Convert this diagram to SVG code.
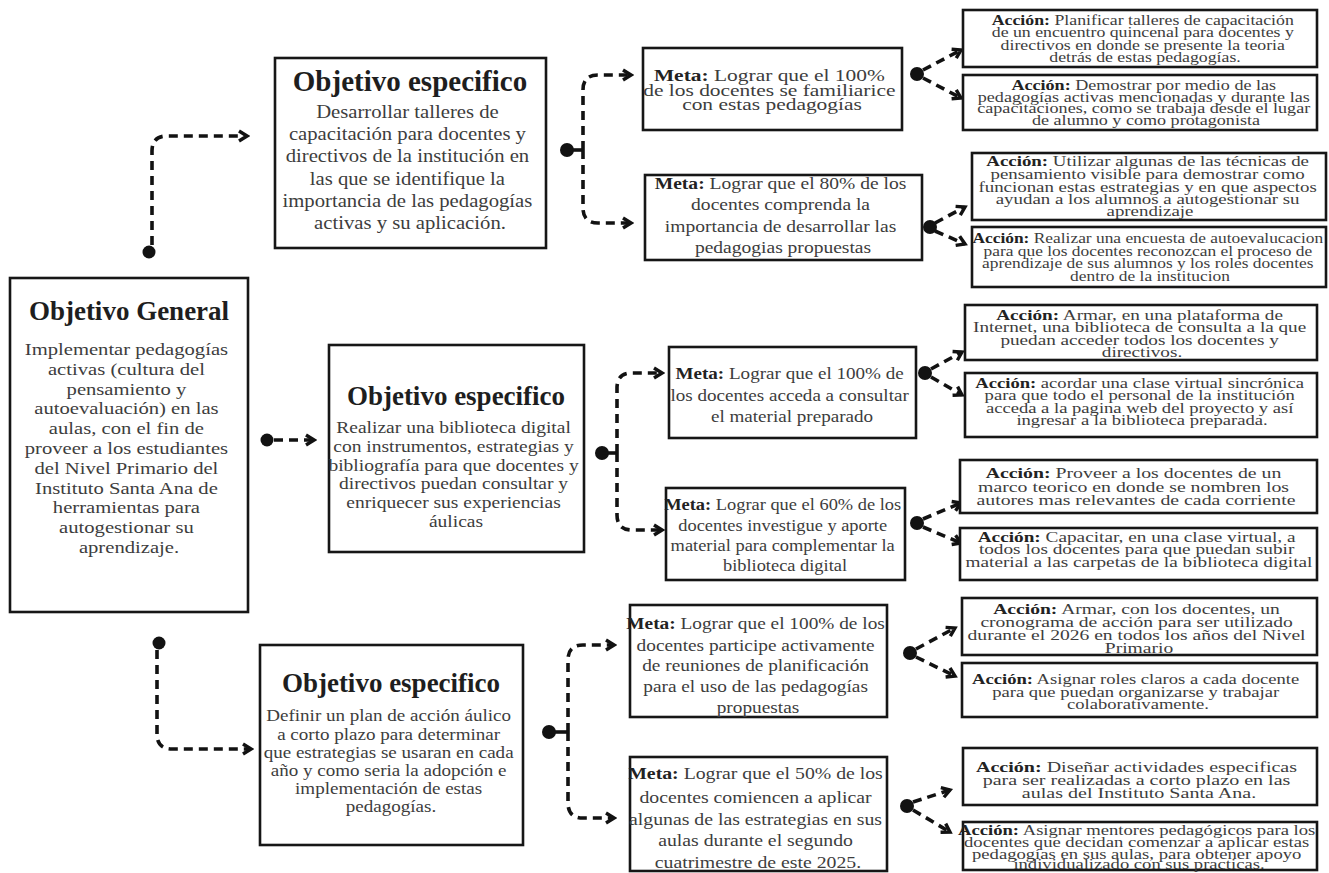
<svg xmlns="http://www.w3.org/2000/svg" width="1329" height="873" viewBox="0 0 1329 873">
<style>
.box{fill:#fff;stroke:#161616;stroke-width:2.6}
.t{font-family:"Liberation Serif","Times New Roman",serif;fill:#3d3d3d;text-anchor:middle}
.ti{font-family:"Liberation Serif","Times New Roman",serif;font-weight:bold;fill:#1e1e1e;text-anchor:middle}
.b{font-weight:bold;fill:#222}
.dash{fill:none;stroke:#121212;stroke-width:3.6;stroke-dasharray:9 6;marker-end:url(#ah)}
.stub{fill:none;stroke:#121212;stroke-width:3.6}
.dot{fill:#121212}
</style>
<defs>
<marker id="ah" viewBox="0 0 14 14" refX="11" refY="7" markerWidth="14" markerHeight="14" markerUnits="userSpaceOnUse" orient="auto">
<path d="M3,2 L11,7 L3,12" fill="none" stroke="#121212" stroke-width="3.4"/>
</marker>
</defs>
<rect width="1329" height="873" fill="#fff"/>

<g id="connectors">
<circle class="dot" cx="149" cy="252" r="6.5"/>
<path class="dash" d="M152,245 V151 Q152,136 167,136 H247"/>
<circle class="dot" cx="267" cy="440" r="6.5"/>
<path class="dash" d="M274,440 H314"/>
<circle class="dot" cx="159" cy="643" r="6.5"/>
<path class="dash" d="M157,650 V734 Q157,749 172,749 H251"/>

<circle class="dot" cx="567" cy="150" r="7"/>
<path class="stub" d="M567,150 H584"/>
<path class="dash" d="M583,150 V90 Q583,75 598,75 H631"/>
<path class="dash" d="M583,150 V208 Q583,223 598,223 H631"/>

<circle class="dot" cx="602" cy="453" r="7"/>
<path class="stub" d="M602,453 H618"/>
<path class="dash" d="M617,453 V388 Q617,373 632,373 H662"/>
<path class="dash" d="M617,453 V515 Q617,530 632,530 H662"/>

<circle class="dot" cx="549" cy="732" r="7"/>
<path class="stub" d="M549,732 H569"/>
<path class="dash" d="M568,732 V660 Q568,645 583,645 H614"/>
<path class="dash" d="M568,732 V803 Q568,818 583,818 H614"/>

<circle class="dot" cx="917" cy="74" r="7"/>
<path class="dash" d="M923,70 L961,50"/>
<path class="dash" d="M923,78 L961,98"/>
<circle class="dot" cx="930" cy="227" r="7"/>
<path class="dash" d="M935,223 L965,207"/>
<path class="dash" d="M935,231 L965,244"/>
<circle class="dot" cx="925" cy="373" r="7"/>
<path class="dash" d="M931,369 L962,352"/>
<path class="dash" d="M931,377 L962,395"/>
<circle class="dot" cx="917" cy="523" r="7"/>
<path class="dash" d="M923,519 L961,503"/>
<path class="dash" d="M923,527 L961,543"/>
<circle class="dot" cx="910" cy="653" r="7"/>
<path class="dash" d="M916,649 L955,628"/>
<path class="dash" d="M916,657 L955,676"/>
<circle class="dot" cx="907" cy="806" r="7"/>
<path class="dash" d="M913,802 L950,790"/>
<path class="dash" d="M913,810 L950,832"/>
</g>

<g id="objetivo-general">
<rect class="box" x="10" y="278" width="238" height="334"/>
<text class="ti" x="129" y="320" font-size="27">Objetivo General</text>
<text class="t" font-size="17.2" transform="matrix(1.2 0 0 1 129 0)">
<tspan x="0" y="355">Implementar pedagogías</tspan>
<tspan x="0" y="374.8">activas (cultura del</tspan>
<tspan x="0" y="394.6">pensamiento y</tspan>
<tspan x="0" y="414.4">autoevaluación) en las</tspan>
<tspan x="0" y="434.2">aulas, con el fin de</tspan>
<tspan x="0" y="454">proveer a los estudiantes</tspan>
<tspan x="0" y="473.8">del Nivel Primario del</tspan>
<tspan x="0" y="493.6">Instituto Santa Ana de</tspan>
<tspan x="0" y="513.4">herramientas para</tspan>
<tspan x="0" y="533.2">autogestionar su</tspan>
<tspan x="0" y="553">aprendizaje.</tspan>
</text>
</g>

<g id="objetivo-especifico-1">
<rect class="box" x="275" y="58" width="271" height="190"/>
<text class="ti" x="410" y="91" font-size="29">Objetivo especifico</text>
<text class="t" font-size="18" transform="matrix(1.15 0 0 1 410 0)">
<tspan x="0" y="118">Desarrollar talleres de</tspan>
<tspan x="0" y="140.2">capacitación para docentes y</tspan>
<tspan x="0" y="162.4">directivos de la institución en</tspan>
<tspan x="0" y="184.6">las que se identifique la</tspan>
<tspan x="0" y="206.8">importancia de las pedagogías</tspan>
<tspan x="0" y="229">activas y su aplicación.</tspan>
</text>
</g>

<g id="meta-1a">
<rect class="box" x="643" y="48" width="259" height="82"/>
<text class="t" font-size="16" transform="matrix(1.34 0 0 1 772 0)">
<tspan x="0" y="81.5"><tspan class="b">Meta:</tspan> Lograr que el 100%</tspan>
<tspan x="0" y="96">de los docentes se familiarice</tspan>
<tspan x="0" y="110.5">con estas pedagogías</tspan>
</text>
</g>

<g id="meta-1b">
<rect class="box" x="645" y="175" width="277" height="85"/>
<text class="t" font-size="17" transform="matrix(1.15 0 0 1 783 0)">
<tspan x="0" y="189"><tspan class="b">Meta:</tspan> Lograr que el 80% de los</tspan>
<tspan x="0" y="210">docentes comprenda la</tspan>
<tspan x="0" y="232">importancia de desarrollar las</tspan>
<tspan x="0" y="253">pedagogias propuestas</tspan>
</text>
</g>

<g id="accion-1">
<rect class="box" x="963" y="10" width="354" height="57"/>
<text class="t" font-size="14" transform="matrix(1.27 0 0 1 1145 0)">
<tspan x="0" y="25"><tspan class="b">Acción:</tspan> Planificar talleres de capacitación</tspan>
<tspan x="0" y="37.5">de un encuentro quincenal para docentes y</tspan>
<tspan x="0" y="50">directivos en donde se presente la teoria</tspan>
<tspan x="0" y="62">detrás de estas pedagogías.</tspan>
</text>
</g>

<g id="accion-2">
<rect class="box" x="963" y="75" width="354" height="55"/>
<text class="t" font-size="13.6" transform="matrix(1.33 0 0 1 1146 0)">
<tspan x="0" y="90"><tspan class="b">Acción:</tspan> Demostrar por medio de las</tspan>
<tspan x="0" y="102">pedagogías activas mencionadas y durante las</tspan>
<tspan x="0" y="113.5">capacitaciones, como se trabaja desde el lugar</tspan>
<tspan x="0" y="125">de alumno y como protagonista</tspan>
</text>
</g>

<g id="accion-3">
<rect class="box" x="972" y="153" width="354" height="67"/>
<text class="t" font-size="14.2" transform="matrix(1.33 0 0 1 1150 0)">
<tspan x="0" y="166"><tspan class="b">Acción:</tspan> Utilizar algunas de las técnicas de</tspan>
<tspan x="0" y="179">pensamiento visible para demostrar como</tspan>
<tspan x="0" y="192">funcionan estas estrategias y en que aspectos</tspan>
<tspan x="0" y="204.5">ayudan a los alumnos a autogestionar su</tspan>
<tspan x="0" y="216.5">aprendizaje</tspan>
</text>
</g>

<g id="accion-4">
<rect class="box" x="972" y="227" width="354" height="60"/>
<text class="t" font-size="13.8" transform="matrix(1.26 0 0 1 1150 0)">
<tspan x="0" y="243"><tspan class="b">Acción:</tspan> Realizar una encuesta de autoevalucacion</tspan>
<tspan x="0" y="256">para que los docentes reconozcan el proceso de</tspan>
<tspan x="0" y="268.5">aprendizaje de sus alumnos y los roles docentes</tspan>
<tspan x="0" y="281">dentro de la institucion</tspan>
</text>
</g>

<g id="objetivo-especifico-2">
<rect class="box" x="329" y="345" width="255" height="207"/>
<text class="ti" x="456" y="405" font-size="27">Objetivo especifico</text>
<text class="t" font-size="16.4" transform="matrix(1.19 0 0 1 456 0)">
<tspan x="0" y="433">Realizar una biblioteca digital</tspan>
<tspan x="0" y="452">con instrumentos, estrategias y</tspan>
<tspan x="0" y="471">bibliografía para que docentes y</tspan>
<tspan x="0" y="489.5">directivos puedan consultar y</tspan>
<tspan x="0" y="508.5">enriquecer sus experiencias</tspan>
<tspan x="0" y="527">áulicas</tspan>
</text>
</g>

<g id="meta-2a">
<rect class="box" x="669" y="347" width="247" height="91"/>
<text class="t" font-size="16.6" transform="matrix(1.15 0 0 1 792 0)">
<tspan x="0" y="379"><tspan class="b">Meta:</tspan> Lograr que el 100% de</tspan>
<tspan x="0" y="401">los docentes acceda a consultar</tspan>
<tspan x="0" y="422">el material preparado</tspan>
</text>
</g>

<g id="meta-2b">
<rect class="box" x="666" y="488" width="239" height="92"/>
<text class="t" font-size="16" transform="matrix(1.15 0 0 1 785 0)">
<tspan x="0" y="510"><tspan class="b">Meta:</tspan> Lograr que el 60% de los</tspan>
<tspan x="0" y="531">docentes investigue y aporte</tspan>
<tspan x="0" y="551">material para complementar la</tspan>
<tspan x="0" y="571">biblioteca digital</tspan>
</text>
</g>

<g id="accion-5">
<rect class="box" x="965" y="305" width="352" height="55"/>
<text class="t" font-size="14" transform="matrix(1.37 0 0 1 1142 0)">
<tspan x="0" y="320"><tspan class="b">Acción:</tspan> Armar, en una plataforma de</tspan>
<tspan x="0" y="332.5">Internet, una biblioteca de consulta a la que</tspan>
<tspan x="0" y="345">puedan acceder todos los docentes y</tspan>
<tspan x="0" y="357">directivos.</tspan>
</text>
</g>

<g id="accion-6">
<rect class="box" x="965" y="373" width="352" height="64"/>
<text class="t" font-size="14.2" transform="matrix(1.31 0 0 1 1142 0)">
<tspan x="0" y="388"><tspan class="b">Acción:</tspan> acordar una clase virtual sincrónica</tspan>
<tspan x="0" y="400.5">para que todo el personal de la institución</tspan>
<tspan x="0" y="413">acceda a la pagina web del proyecto y así</tspan>
<tspan x="0" y="425.5">ingresar a la biblioteca preparada.</tspan>
</text>
</g>

<g id="accion-7">
<rect class="box" x="960" y="460" width="357" height="53"/>
<text class="t" font-size="15" transform="matrix(1.32 0 0 1 1136 0)">
<tspan x="0" y="478"><tspan class="b">Acción:</tspan> Proveer a los docentes de un</tspan>
<tspan x="0" y="492">marco teorico en donde se nombren los</tspan>
<tspan x="0" y="505.5">autores mas relevantes de cada corriente</tspan>
</text>
</g>

<g id="accion-8">
<rect class="box" x="960" y="528" width="357" height="52"/>
<text class="t" font-size="14.6" transform="matrix(1.32 0 0 1 1139 0)">
<tspan x="0" y="542"><tspan class="b">Acción:</tspan> Capacitar, en una clase virtual, a</tspan>
<tspan x="0" y="554.5">todos los docentes para que puedan subir</tspan>
<tspan x="0" y="567">material a las carpetas de la biblioteca digital</tspan>
</text>
</g>

<g id="objetivo-especifico-3">
<rect class="box" x="260" y="645" width="263" height="200"/>
<text class="ti" x="391" y="692" font-size="27">Objetivo especifico</text>
<text class="t" font-size="16" transform="matrix(1.19 0 0 1 391 0)">
<tspan x="0" y="721">Definir un plan de acción áulico</tspan>
<tspan x="0" y="740">a corto plazo para determinar</tspan>
<tspan x="0" y="758">que estrategias se usaran en cada</tspan>
<tspan x="0" y="776">año y como seria la adopción e</tspan>
<tspan x="0" y="794">implementación de estas</tspan>
<tspan x="0" y="812">pedagogías.</tspan>
</text>
</g>

<g id="meta-3a">
<rect class="box" x="630" y="605" width="257" height="112"/>
<text class="t" font-size="16.8" transform="matrix(1.15 0 0 1 758 0)">
<tspan x="0" y="629"><tspan class="b">Meta:</tspan> Lograr que el 100% de los</tspan>
<tspan x="0" y="651">docentes participe activamente</tspan>
<tspan x="0" y="671">de reuniones de planificación</tspan>
<tspan x="0" y="692">para el uso de las pedagogías</tspan>
<tspan x="0" y="713">propuestas</tspan>
</text>
</g>

<g id="meta-3b">
<rect class="box" x="630" y="757" width="257" height="114"/>
<text class="t" font-size="17.2" transform="matrix(1.15 0 0 1 758 0)">
<tspan x="0" y="779"><tspan class="b">Meta:</tspan> Lograr que el 50% de los</tspan>
<tspan x="0" y="803">docentes comiencen a aplicar</tspan>
<tspan x="0" y="825">algunas de las estrategias en sus</tspan>
<tspan x="0" y="846">aulas durante el segundo</tspan>
<tspan x="0" y="868">cuatrimestre de este 2025.</tspan>
</text>
</g>

<g id="accion-9">
<rect class="box" x="962" y="598" width="355" height="57"/>
<text class="t" font-size="14.4" transform="matrix(1.36 0 0 1 1139 0)">
<tspan x="0" y="614.5"><tspan class="b">Acción:</tspan> Armar, con los docentes, un</tspan>
<tspan x="0" y="627.5">cronograma de acción para ser utilizado</tspan>
<tspan x="0" y="640.5">durante el 2026 en todos los años del Nivel</tspan>
<tspan x="0" y="653">Primario</tspan>
</text>
</g>

<g id="accion-10">
<rect class="box" x="962" y="663" width="355" height="54"/>
<text class="t" font-size="14.2" transform="matrix(1.31 0 0 1 1138 0)">
<tspan x="0" y="684"><tspan class="b">Acción:</tspan> Asignar roles claros a cada docente</tspan>
<tspan x="0" y="697">para que puedan organizarse y trabajar</tspan>
<tspan x="0" y="709.5">colaborativamente.</tspan>
</text>
</g>

<g id="accion-11">
<rect class="box" x="963" y="748" width="354" height="57"/>
<text class="t" font-size="15.2" transform="matrix(1.32 0 0 1 1139 0)">
<tspan x="0" y="772"><tspan class="b">Acción:</tspan> Diseñar actividades especificas</tspan>
<tspan x="0" y="785.5">para ser realizadas a corto plazo en las</tspan>
<tspan x="0" y="798.5">aulas del Instituto Santa Ana.</tspan>
</text>
</g>

<g id="accion-12">
<rect class="box" x="963" y="822" width="354" height="48"/>
<text class="t" font-size="13.6" transform="matrix(1.37 0 0 1 1139 0)">
<tspan x="0" y="835.5"><tspan class="b">Acción:</tspan> Asignar mentores pedagógicos para los</tspan>
<tspan x="0" y="847.5">docentes que decidan comenzar a aplicar estas</tspan>
<tspan x="0" y="859">pedagogías en sus aulas, para obtener apoyo</tspan>
<tspan x="0" y="869.5">individualizado con sus practicas.</tspan>
</text>
</g>
</svg>
